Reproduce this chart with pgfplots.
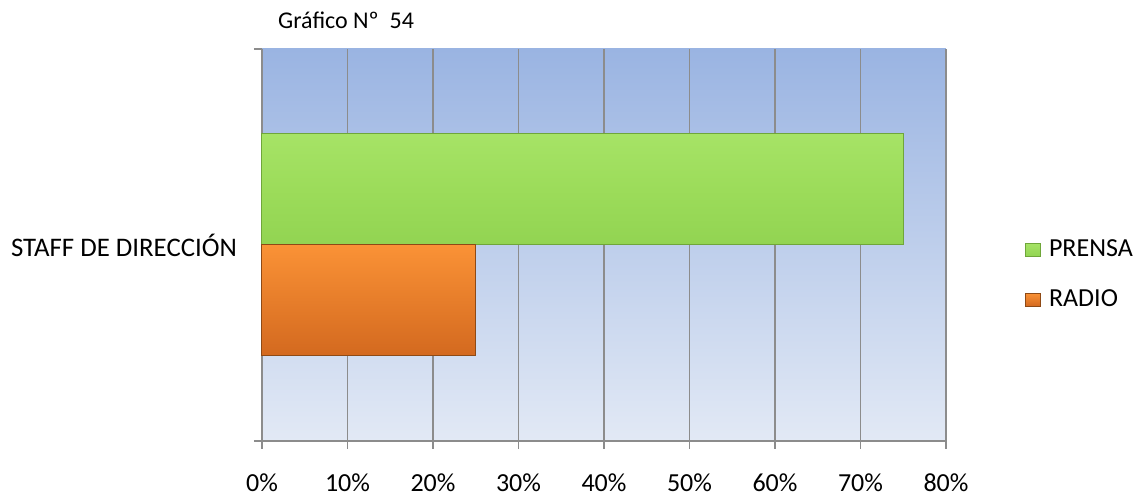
\documentclass[border=0pt]{standalone}
\usepackage{pgfplots}
\pgfplotsset{compat=1.18}
\usepackage{fontspec}
\setmainfont{Carlito}
\definecolor{bgtop}{HTML}{9AB4E2}
\definecolor{bgbot}{HTML}{E2E9F5}
\definecolor{gtop}{HTML}{A6E366}
\definecolor{gmid}{HTML}{9CDC5A}
\definecolor{gbot}{HTML}{92D452}
\definecolor{gedge}{HTML}{6FA63A}
\definecolor{otop}{HTML}{FA9236}
\definecolor{obot}{HTML}{D3691F}
\definecolor{oedge}{HTML}{8E4A16}
\definecolor{gridc}{HTML}{8C8C8C}
\begin{document}
\begin{tikzpicture}
\path (-131pt,-28pt) rectangle (440pt,220.5pt);
\begin{axis}[
  scale only axis,
  width=342pt, height=196pt,
  at={(0,0)}, anchor=south west,
  clip=false,
  xmin=0, xmax=80, ymin=-0.5, ymax=0.5,
  xtick={0,10,...,80},
  xticklabel={\pgfmathprintnumber{\tick}\%},
  /pgf/number format/assume math mode=true,
  ytick={-0.5,0.5}, yticklabels={},
  extra y ticks={0}, extra y tick labels={STAFF DE DIRECCIÓN},
  extra y tick style={major tick length=0pt, tick style={draw=none},
    yticklabel style={xshift=-9pt, font=\fontsize{13.4pt}{15pt}\selectfont}},
  major tick length=4pt,
  tick align=outside,
  xtick pos=bottom, ytick pos=left,
  tick style={gridc, line width=0.75pt},
  xmajorgrids,
  grid style={gridc, line width=0.75pt},
  axis x line*=bottom, axis y line*=left,
  axis line style={gridc, line width=0.75pt, -},
  axis background/.style={top color=bgtop, bottom color=bgbot},
  tick label style={font=\fontsize{13pt}{15pt}\selectfont},
  xticklabel style={yshift=-9pt},
  xbar, bar width=55.5pt,
  legend style={at={(1.115,0.424)}, anchor=west, draw=none, fill=none,
    font=\fontsize{13pt}{15pt}\selectfont, row sep=15pt, column sep=4pt,
    inner sep=0pt, nodes={inner sep=0pt}},
  legend cell align=left,
]
\addplot[xbar, bar shift=27.75pt, draw=gedge, line width=0.5pt,
  top color=gtop, bottom color=gbot, middle color=gmid,
  legend image code/.code={\path[draw=gedge, top color=gtop, bottom color=gbot] (0pt,-3.3pt) rectangle (7.5pt,3.3pt);}]
  coordinates {(75,0)};
\addlegendentry{PRENSA}
\addplot[xbar, bar shift=-27.75pt, draw=oedge, line width=0.5pt,
  top color=otop, bottom color=obot,
  legend image code/.code={\path[draw=oedge, top color=otop, bottom color=obot] (0pt,-3.3pt) rectangle (7.5pt,3.3pt);}]
  coordinates {(25,0)};
\addlegendentry{RADIO}
\node[anchor=west, font=\fontsize{12pt}{14pt}\selectfont, inner sep=0pt] at (rel axis cs:0.023,1) [yshift=14.5pt] {Gráfico Nº~~54};
\end{axis}
\end{tikzpicture}
\end{document}
